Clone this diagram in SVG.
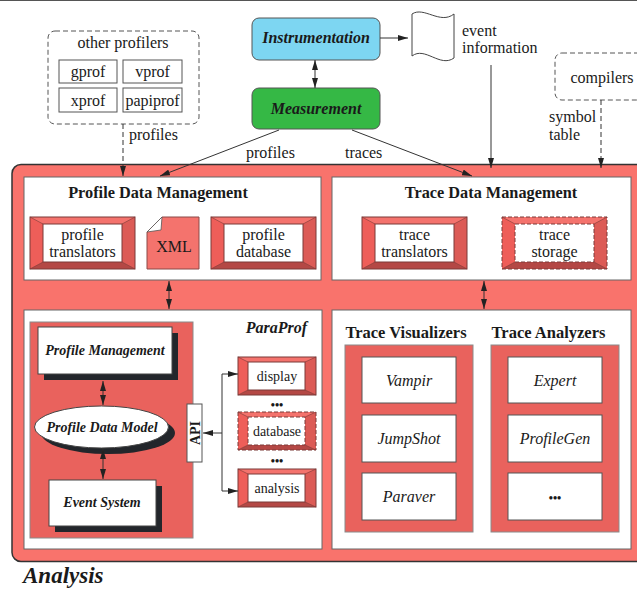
<svg xmlns="http://www.w3.org/2000/svg" width="637" height="597" viewBox="0 0 637 597" font-family="'Liberation Serif', 'Times New Roman', serif">
<style>
text{font-family:'Liberation Serif','Times New Roman',serif;fill:#1a1a1a}
.t15{font-size:16px}
.t14{font-size:14px}
.bi{font-weight:bold;font-style:italic}
.b{font-weight:bold}
.i{font-style:italic}
.mid{text-anchor:middle}
.white{fill:#fff;stroke:#666;stroke-width:1}
.panel{fill:#e9625d;stroke:#8a8a8a;stroke-width:1}
.shadow{fill:#23262b}
.sbox{fill:#fff;stroke:#444;stroke-width:1}
.dash{fill:none;stroke:#555;stroke-width:1;stroke-dasharray:5 3}
.conn{fill:none;stroke:#333;stroke-width:1;marker-end:url(#ah)}
.dconn{fill:none;stroke:#333;stroke-width:1;stroke-dasharray:5 3;marker-end:url(#ah)}
.both{fill:none;stroke:#333;stroke-width:1;marker-start:url(#ah);marker-end:url(#ah)}
.bevout{fill:none;stroke:#7a3a38;stroke-width:1}
.bevdash{fill:none;stroke:#7a3a38;stroke-width:1;stroke-dasharray:4 2}
.plain{fill:#fff;stroke:#555;stroke-width:1}
</style>
<defs>
<marker id="ah" viewBox="0 0 10 6" refX="10" refY="3" markerWidth="10" markerHeight="6" markerUnits="userSpaceOnUse" orient="auto-start-reverse">
<path d="M0,0 L10,3 L0,6 z" fill="#222"/>
</marker>
<g id="bevL">
<rect width="105" height="52" fill="#f4736d"/>
<polygon points="0,0 13,7 13,45 0,52" fill="#ee5e59"/>
<polygon points="105,0 92,7 92,45 105,52" fill="#dc5b56"/>
<polygon points="0,52 13,45 92,45 105,52" fill="#b44845"/>
<path d="M0,0 L13,7 M105,0 L92,7 M0,52 L13,45 M105,52 L92,45" stroke="#7a3a38" stroke-width="0.6"/>
<rect x="13" y="7" width="79" height="38" fill="#fff"/>
</g>
<g id="bevS">
<rect width="78" height="38" fill="#f4736d"/>
<polygon points="0,0 10,5 10,33 0,38" fill="#ee5e59"/>
<polygon points="78,0 67,5 67,33 78,38" fill="#dc5b56"/>
<polygon points="0,38 10,33 67,33 78,38" fill="#b44845"/>
<path d="M0,0 L10,5 M78,0 L67,5 M0,38 L10,33 M78,38 L67,33" stroke="#7a3a38" stroke-width="0.6"/>
<rect x="10" y="5" width="57" height="28" fill="#fff"/>
</g>
</defs>
<rect width="637" height="597" fill="#fff"/>
<line x1="0" y1="0.5" x2="637" y2="0.5" stroke="#555" stroke-width="1"/>

<g id="analysis-frame">
<rect x="12" y="164.5" width="640" height="397" rx="9" fill="#f9736c" stroke="#333" stroke-width="1.5"/>
<text x="23" y="583" class="bi" font-size="23">Analysis</text>
</g>

<g id="other-profilers">
<rect x="48" y="31" width="151" height="93" rx="7" class="dash"/>
<text x="123" y="48" class="t15 mid">other profilers</text>
<rect x="59" y="60" width="58" height="23" class="plain"/>
<text x="88" y="77" class="t15 mid">gprof</text>
<rect x="123" y="60" width="59" height="23" class="plain"/>
<text x="152.5" y="77" class="t15 mid">vprof</text>
<rect x="59" y="88" width="58" height="24" class="plain"/>
<text x="88" y="106" class="t15 mid">xprof</text>
<rect x="123" y="88" width="59" height="24" class="plain"/>
<text x="152.5" y="106" class="t15 mid">papiprof</text>
</g>

<g id="instrumentation">
<rect x="252" y="18" width="128" height="42" rx="7" fill="#7dd6f2" stroke="#555" stroke-width="1"/>
<text x="316" y="43" class="t15 bi mid">Instrumentation</text>
</g>

<g id="measurement">
<rect x="252" y="88" width="128" height="41" rx="7" fill="#35b845" stroke="#555" stroke-width="1"/>
<text x="316" y="114" class="t15 bi mid">Measurement</text>
</g>

<g id="event-information">
<path d="M412,14 C424,6 440,25 454,14 L454,58 C440,68 425,46 412,56 Z" fill="#fff" stroke="#444" stroke-width="1"/>
<text x="462" y="36" class="t15">event</text>
<text x="462" y="53" class="t15">information</text>
</g>

<g id="compilers">
<rect x="555" y="53" width="100" height="47" rx="7" class="dash"/>
<text x="602" y="83" class="t15 mid">compilers</text>
</g>

<g id="profile-data-management">
<rect x="24" y="177" width="297" height="103" class="white"/>
<text x="158" y="198" class="b mid" font-size="16.3">Profile Data Management</text>
</g>

<g id="profile-translators">
<use href="#bevL" x="30" y="217"/>
<rect x="30" y="217" width="105" height="52" class="bevout"/>
<rect x="43" y="224" width="79" height="38" class="bevout" stroke-width="0.6"/>
<text x="82.5" y="240" class="t15 mid">profile</text>
<text x="82.5" y="257" class="t15 mid">translators</text>
</g>

<g id="xml">
<path d="M162,217 L199,217 L199,269 L147,269 L147,232 Z" fill="#f4736d" stroke="#8a4a48" stroke-width="1"/>
<path d="M162,217 L147,232 L161,230 Z" fill="#fff" stroke="#555" stroke-width="0.8"/>
<text x="174" y="252" class="mid" font-size="16">XML</text>
</g>

<g id="profile-database">
<use href="#bevL" x="211" y="217"/>
<rect x="211" y="217" width="105" height="52" class="bevout"/>
<rect x="224" y="224" width="79" height="38" class="bevout" stroke-width="0.6"/>
<text x="263.5" y="240" class="t15 mid">profile</text>
<text x="263.5" y="257" class="t15 mid">database</text>
</g>

<g id="trace-data-management">
<rect x="332" y="177" width="299" height="103" class="white"/>
<text x="491" y="198" class="b mid" font-size="16.3">Trace Data Management</text>
</g>

<g id="trace-translators">
<use href="#bevL" x="362" y="217"/>
<rect x="362" y="217" width="105" height="52" class="bevout"/>
<rect x="375" y="224" width="79" height="38" class="bevout" stroke-width="0.6"/>
<text x="414.5" y="240" class="t15 mid">trace</text>
<text x="414.5" y="257" class="t15 mid">translators</text>
</g>

<g id="trace-storage">
<use href="#bevL" x="502" y="217"/>
<rect x="502" y="217" width="105" height="52" class="bevdash"/>
<rect x="515" y="224" width="79" height="38" class="bevdash"/>
<text x="554.5" y="240" class="t15 mid">trace</text>
<text x="554.5" y="257" class="t15 mid">storage</text>
</g>

<g id="paraprof">
<rect x="24" y="310" width="298" height="239" class="white"/>
<text x="307" y="333" class="t15 bi" text-anchor="end">ParaProf</text>
<rect x="30" y="322" width="163" height="216" class="panel"/>
</g>

<g id="profile-management">
<rect x="44" y="333" width="134" height="47" class="shadow"/>
<rect x="38" y="327" width="134" height="47" class="sbox"/>
<text x="105" y="355" class="t14 bi mid">Profile Management</text>
</g>

<g id="profile-data-model">
<ellipse cx="108" cy="433" rx="67" ry="21" class="shadow"/>
<ellipse cx="101.5" cy="427" rx="67" ry="21" class="sbox"/>
<text x="102" y="432" class="t14 bi mid">Profile Data Model</text>
</g>

<g id="event-system">
<rect x="55" y="486" width="107" height="46" class="shadow"/>
<rect x="49" y="480" width="107" height="46" class="sbox"/>
<text x="102" y="507" class="t14 bi mid">Event System</text>
</g>

<g id="api">
<rect x="187" y="404" width="15" height="58" class="plain"/>
<text transform="translate(199.5,433) rotate(-90)" class="b mid" font-size="14">API</text>
</g>

<g id="display">
<use href="#bevS" x="238" y="357"/>
<rect x="238" y="357" width="78" height="38" class="bevout"/>
<rect x="248" y="362" width="57" height="28" class="bevout" stroke-width="0.6"/>
<text x="277" y="381" class="t14 mid">display</text>
</g>

<g id="database">
<use href="#bevS" x="238" y="412"/>
<rect x="238" y="412" width="78" height="38" class="bevdash"/>
<rect x="248" y="417" width="57" height="28" class="bevdash"/>
<text x="277" y="436" class="t14 mid">database</text>
</g>

<g id="analysis-tool">
<use href="#bevS" x="238" y="469"/>
<rect x="238" y="469" width="78" height="38" class="bevout"/>
<rect x="248" y="474" width="57" height="28" class="bevout" stroke-width="0.6"/>
<text x="277" y="493" class="t14 mid">analysis</text>
</g>

<g id="dots">
<text x="277" y="409" class="b mid" font-size="12">•••</text>
<text x="277" y="465" class="b mid" font-size="12">•••</text>
</g>

<g id="trace-tools">
<rect x="332" y="310" width="299" height="239" class="white"/>
<text x="406" y="338" class="b mid" font-size="16.5">Trace Visualizers</text>
<text x="548.5" y="338" class="b mid" font-size="16.5">Trace Analyzers</text>
</g>

<g id="trace-visualizers">
<rect x="345" y="345" width="128" height="187" class="panel"/>
<rect x="362" y="357" width="94" height="46" class="plain"/>
<text x="409" y="386" class="t15 i mid">Vampir</text>
<rect x="362" y="415" width="94" height="47" class="plain"/>
<text x="409" y="444" class="t15 i mid">JumpShot</text>
<rect x="362" y="473" width="94" height="47" class="plain"/>
<text x="409" y="502" class="t15 i mid">Paraver</text>
</g>

<g id="trace-analyzers">
<rect x="491" y="345" width="128" height="187" class="panel"/>
<rect x="508" y="357" width="94" height="46" class="plain"/>
<text x="555" y="386" class="t15 i mid">Expert</text>
<rect x="508" y="415" width="94" height="47" class="plain"/>
<text x="555" y="444" class="t15 i mid">ProfileGen</text>
<rect x="508" y="473" width="94" height="47" class="plain"/>
<text x="555" y="502" class="b mid" font-size="12">•••</text>
</g>

<g id="connectors">
<path d="M123,124 L123,176" class="dconn"/>
<text x="129" y="140" class="t15">profiles</text>
<path d="M315,60 L315,88" class="both"/>
<path d="M380,38 L408,38" class="conn"/>
<path d="M279,130 L160,176" class="conn"/>
<text x="246" y="158" class="t15">profiles</text>
<path d="M352,130 L472,176" class="conn"/>
<text x="345" y="158" class="t15">traces</text>
<path d="M491,65 L491,168" class="conn"/>
<path d="M601,100 L601,168" class="dconn"/>
<text x="549" y="122" class="t15">symbol</text>
<text x="549" y="140" class="t15">table</text>
<path d="M169,281 L169,309" class="both"/>
<path d="M484,281 L484,309" class="both"/>
<path d="M103,381 L103,405" class="both"/>
<path d="M103,449 L103,479" class="both"/>
<path d="M222,374 L222,491" fill="none" stroke="#333" stroke-width="1"/>
<path d="M222,374 L238,374" class="conn"/>
<path d="M222,491 L238,491" class="conn"/>
<path d="M222,433 L203,433" class="conn"/>
</g>
</svg>
